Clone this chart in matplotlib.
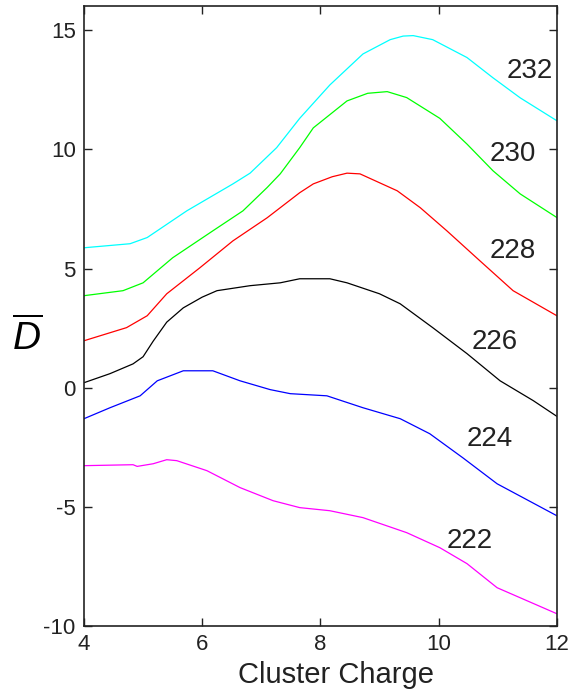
import matplotlib
matplotlib.use("Agg")
import matplotlib.pyplot as plt

plt.rcParams['font.family'] = ['Liberation Sans', 'DejaVu Sans']
plt.rcParams['mathtext.fontset'] = 'custom'
plt.rcParams['mathtext.it'] = 'Liberation Sans:italic'
plt.rcParams['mathtext.rm'] = 'Liberation Sans'
plt.rcParams['axes.unicode_minus'] = False

# curves, one per mass number
x_232 = [4.0, 4.78, 5.07, 5.74, 6.52, 6.81, 7.26, 7.65, 8.16, 8.72, 9.18, 9.4, 9.57, 9.9, 10.48, 10.92, 11.38, 12.0]
y_232 = [5.87, 6.04, 6.3, 7.42, 8.55, 9.0, 10.07, 11.3, 12.7, 14.0, 14.6, 14.75, 14.77, 14.6, 13.85, 13.0, 12.16, 11.2]

x_230 = [4.0, 4.66, 5.0, 5.5, 6.18, 6.69, 7.1, 7.32, 7.65, 7.88, 8.45, 8.8, 9.13, 9.46, 10.02, 10.48, 10.92, 11.38, 12.0]
y_230 = [3.86, 4.07, 4.4, 5.45, 6.58, 7.42, 8.4, 8.97, 10.07, 10.9, 12.03, 12.35, 12.42, 12.17, 11.3, 10.22, 9.1, 8.13, 7.14]

x_228 = [4.0, 4.72, 5.07, 5.4, 5.96, 6.52, 7.1, 7.65, 7.88, 8.2, 8.45, 8.67, 9.3, 9.69, 10.14, 10.7, 11.26, 12.0]
y_228 = [1.97, 2.52, 3.02, 3.94, 5.03, 6.16, 7.13, 8.18, 8.55, 8.85, 9.0, 8.97, 8.26, 7.55, 6.58, 5.32, 4.07, 3.02]

x_226 = [4.0, 4.44, 4.83, 5.0, 5.17, 5.4, 5.68, 6.0, 6.25, 6.81, 7.32, 7.65, 8.16, 8.45, 9.0, 9.35, 9.9, 10.48, 11.04, 11.6, 12.0]
y_226 = [0.21, 0.59, 1.0, 1.3, 1.95, 2.75, 3.35, 3.8, 4.07, 4.28, 4.4, 4.57, 4.57, 4.4, 3.94, 3.52, 2.52, 1.43, 0.29, -0.54, -1.2]

x_224 = [4.0, 4.44, 4.95, 5.24, 5.68, 6.18, 6.64, 7.15, 7.49, 8.11, 8.72, 9.35, 9.85, 10.41, 10.99, 12.0]
y_224 = [-1.3, -0.84, -0.34, 0.29, 0.71, 0.71, 0.29, -0.08, -0.25, -0.34, -0.84, -1.3, -1.93, -2.94, -4.03, -5.37]

x_222 = [4.0, 4.83, 4.9, 5.17, 5.4, 5.57, 6.08, 6.64, 7.2, 7.65, 8.16, 8.72, 9.46, 10.02, 10.48, 10.99, 12.0]
y_222 = [-3.27, -3.23, -3.3, -3.19, -3.02, -3.06, -3.48, -4.19, -4.74, -5.03, -5.16, -5.45, -6.08, -6.71, -7.38, -8.39, -9.48]

labels = ['232', '230', '228', '226', '224', '222']
colors = ['#00ffff', '#00ff00', '#ff0000', '#000000', '#0000ff', '#ff00ff']
label_x = [11.55, 11.26, 11.26, 10.95, 10.87, 10.53]
label_y = [13.3, 9.8, 5.74, 1.9, -2.14, -6.42]

xs = [x_232, x_230, x_228, x_226, x_224, x_222]
ys = [y_232, y_230, y_228, y_226, y_224, y_222]

fig = plt.figure(figsize=(5.69, 6.98), dpi=100)
ax = fig.add_axes([0.1476, 0.103, 0.831, 0.888])

for x, y, c in zip(xs, ys, colors):
    ax.plot(x, y, color=c, lw=0.9)

for lab, lx, ly in zip(labels, label_x, label_y):
    ax.text(lx, ly, lab, fontsize=20, ha='center', va='center', color='#222222')

ax.set_xlim(4, 12)
ax.set_ylim(-10, 16)
ax.set_xticks([4, 6, 8, 10, 12])
ax.set_yticks([-10, -5, 0, 5, 10, 15])
ax.tick_params(direction='in', top=True, right=True, labelsize=16, length=6, width=1, pad=6, colors='#222222')
for s in ax.spines.values():
    s.set_linewidth(1.2)
    s.set_color('#222222')

ax.set_xlabel('Cluster Charge', fontsize=21, color='#222222')
ax.xaxis.set_label_coords(0.533, -0.057)
fig.text(0.048, 0.515, r'$\overline{D}$', fontsize=28, ha='center', va='center')

fig.savefig('out.png', dpi=100)
